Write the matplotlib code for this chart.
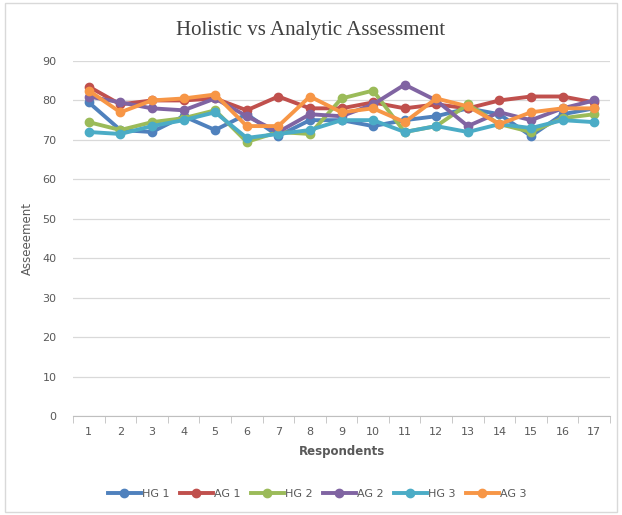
import matplotlib
matplotlib.use("Agg")
import matplotlib.pyplot as plt
import numpy as np

respondents = list(range(1, 18))
series_names = ["HG 1", "AG 1", "HG 2", "AG 2", "HG 3", "AG 3"]
hg1 = [79.5, 72.5, 72, 76, 72.5, 76.5, 71, 75, 75, 73.5, 75, 76, 78, 76.5, 71, 76.5, 78]
ag1 = [83.5, 79, 80, 80, 80.5, 77.5, 81, 78, 78, 79.5, 78, 79, 78, 80, 81, 81, 79.5]
hg2 = [74.5, 72.5, 74.5, 75.5, 77.5, 69.5, 72, 71.5, 80.5, 82.5, 72, 73.5, 79, 74, 72, 75.5, 76.5]
ag2 = [81, 79.5, 78, 77.5, 80.5, 76, 72, 76.5, 76, 79, 84, 80, 73.5, 77, 75, 78, 80]
hg3 = [72, 71.5, 73.5, 75, 77, 70.5, 71.5, 72.5, 75, 75, 72, 73.5, 72, 74, 73, 75, 74.5]
ag3 = [82.5, 77, 80, 80.5, 81.5, 73.5, 73.5, 81, 77, 78, 74.5, 80.5, 78.5, 74, 77, 78, 78]
colors = ["#4F81BD", "#C0504D", "#9BBB59", "#8064A2", "#4BACC6", "#F79646"]

fig = plt.figure(figsize=(6.22, 5.15), dpi=100)
ax = fig.add_axes([73/622, 99/515, 537/622, 355/515])

x = np.arange(len(respondents))
for name, vals, c in zip(series_names, [hg1, ag1, hg2, ag2, hg3, ag3], colors):
    ax.plot(x, vals, color=c, lw=2.8, marker="o", ms=6, label=name, solid_joinstyle="round")

ax.set_xlim(-0.5, len(respondents) - 0.5)
ax.set_ylim(0, 90)
ax.set_yticks(range(0, 91, 10))
ax.set_xticks(x)
ax.set_xticklabels([str(r) for r in respondents])
ax.set_xticks(np.arange(-0.5, len(respondents), 1), minor=True)
ax.tick_params(axis="x", which="major", length=0, labelsize=8, colors="#595959", pad=8)
ax.tick_params(axis="x", which="minor", length=5, color="#BFBFBF")
ax.tick_params(axis="y", length=0, labelsize=8, colors="#595959", pad=12)
ax.grid(axis="y", color="#D9D9D9", lw=0.9)
ax.set_axisbelow(True)
for s in ["top", "right", "left"]:
    ax.spines[s].set_visible(False)
ax.spines["bottom"].set_color("#BFBFBF")

ax.set_xlabel("Respondents", fontsize=8.5, color="#595959", fontweight="bold", labelpad=6)
ax.set_ylabel("Asseeement", fontsize=8.5, color="#595959", labelpad=6)

fig.text(0.5, 1 - 30/515, "Holistic vs Analytic Assessment", ha="center", va="center",
         fontsize=15, family="Liberation Serif", color="#404040")

fig.legend(loc="center", bbox_to_anchor=(0.51, 1 - 494/515), ncol=6, frameon=False,
           fontsize=8, handlelength=3.0, columnspacing=0.9, handletextpad=0.1,
           labelcolor="#595959")

border = plt.Rectangle((5/622, 3/515), 612/622, 509/515, transform=fig.transFigure,
                       fill=False, edgecolor="#D9D9D9", lw=1)
fig.add_artist(border)

fig.savefig("out.png", dpi=100)
